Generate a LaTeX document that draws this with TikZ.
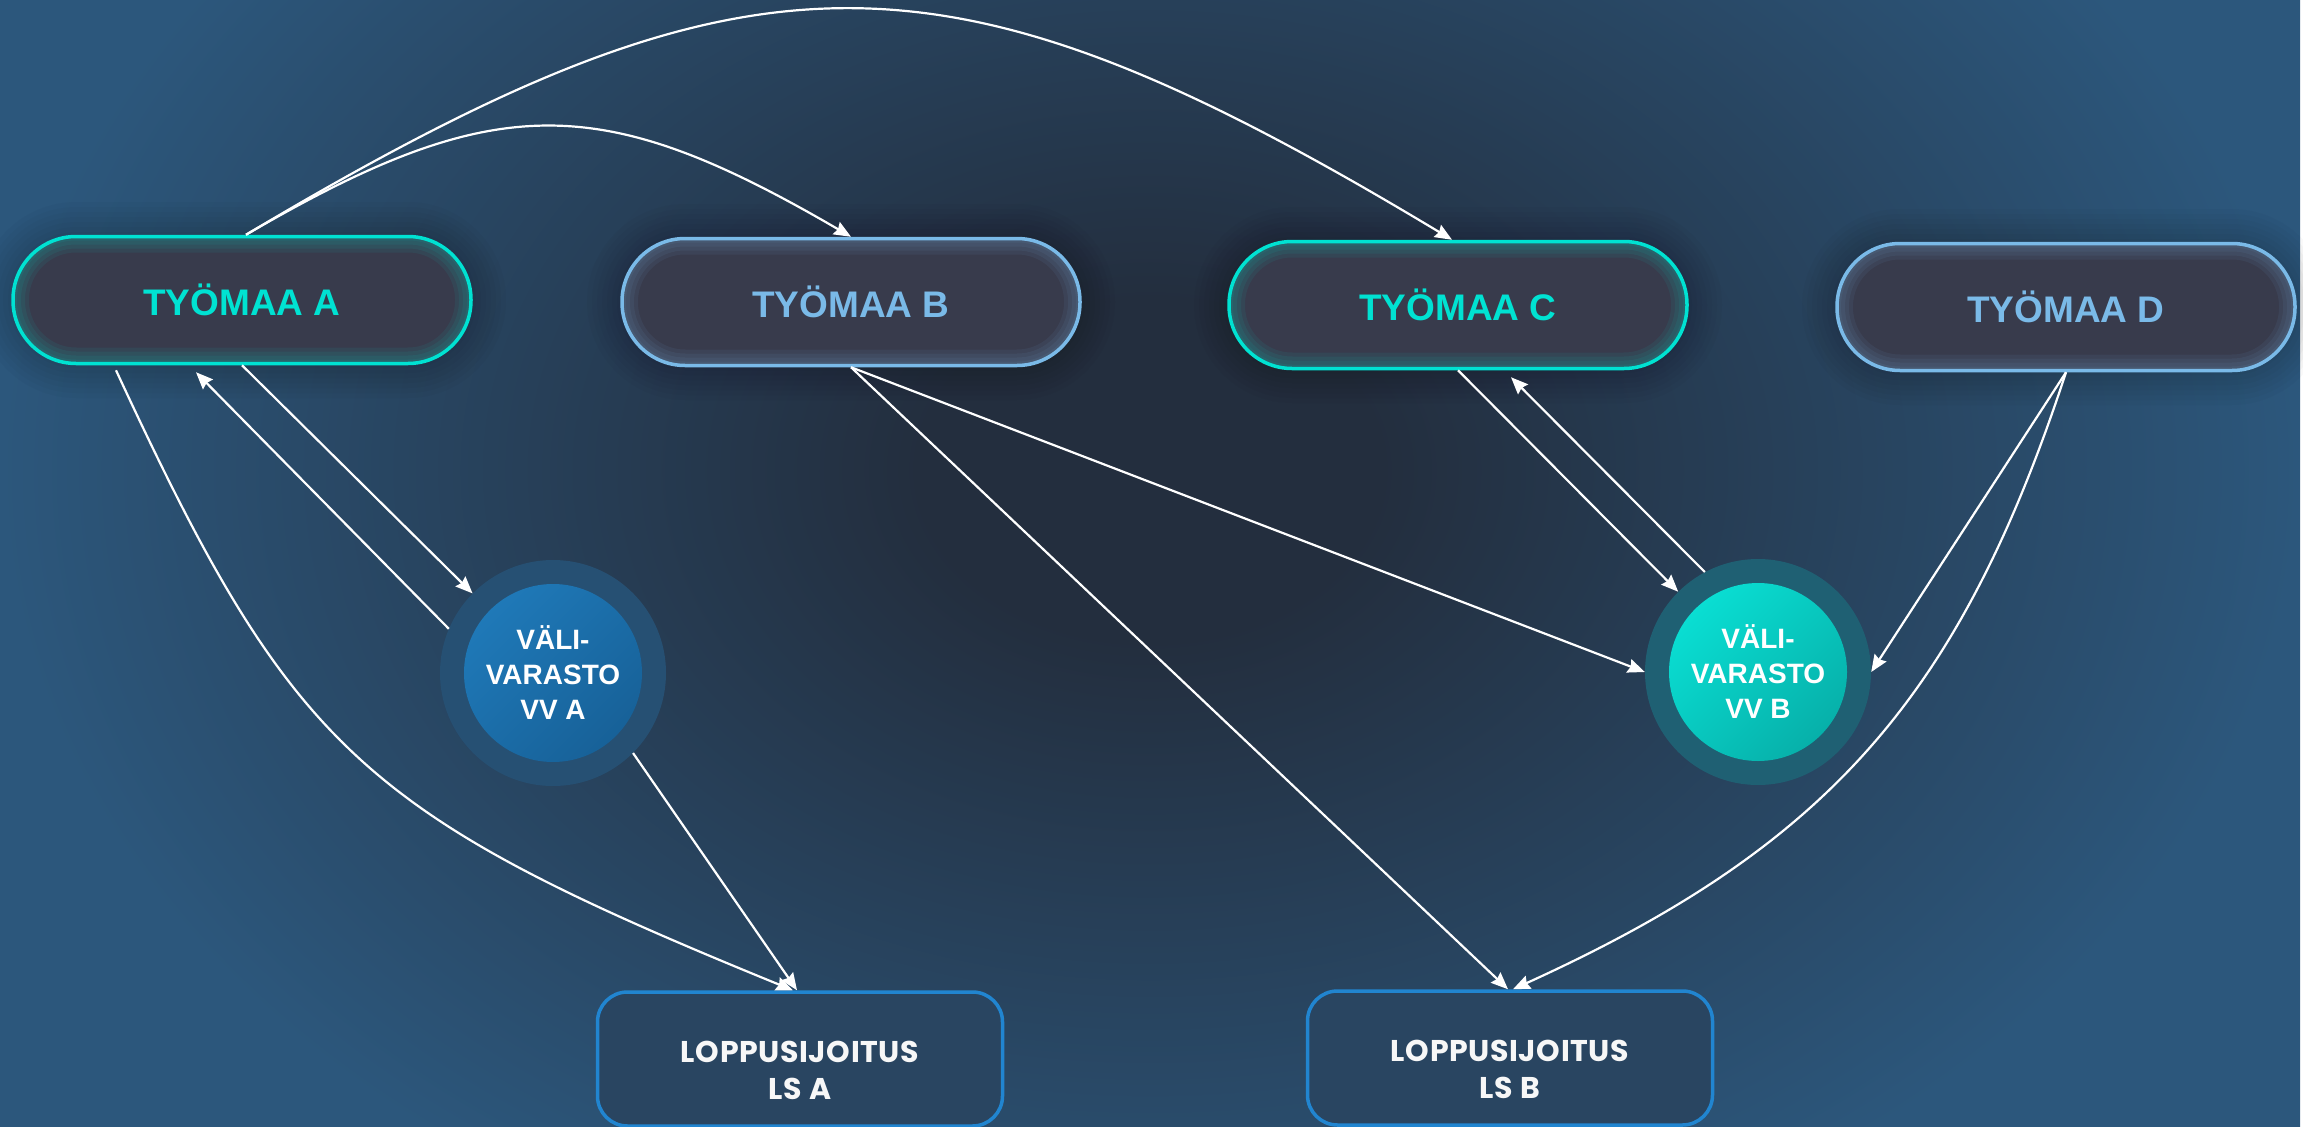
\documentclass[tikz,border=0pt]{standalone}
\usepackage{fontspec}
\setmainfont{Liberation Sans}
\newfontfamily\lsfont{Poppins}[LetterSpace=2]
\usetikzlibrary{arrows.meta}

\definecolor{bgin}{RGB}{35,46,62}
\definecolor{bgout}{RGB}{44,87,124}
\definecolor{siteteal}{RGB}{0,226,210}
\definecolor{siteblue}{RGB}{122,186,232}
\definecolor{sitefill}{RGB}{56,59,76}
\definecolor{lsblue}{RGB}{33,133,208}
\definecolor{lsfill}{RGB}{41,69,97}
\definecolor{ringa}{RGB}{38,80,115}
\definecolor{ringb}{RGB}{31,96,115}
\definecolor{vvatop}{RGB}{32,124,188}
\definecolor{vvabot}{RGB}{22,94,148}
\definecolor{vvbtop}{RGB}{10,228,216}
\definecolor{vvbbot}{RGB}{6,170,164}

\pgfdeclareradialshading{bgglow}{\pgfpoint{0bp}{0bp}}{color(0bp)=(bgin); color(5bp)=(bgin); color(25bp)=(bgout); color(50bp)=(bgout)}

\tikzset{
  site/.style={draw=#1, text=#1, line width=3.5pt, fill=sitefill,
    rounded corners=63pt, minimum width=458pt, minimum height=127pt, inner sep=0pt,
    font=\fontsize{37}{44}\selectfont\bfseries,
    path picture={
      \foreach \w in {8,16,24,32}
        \draw[#1, opacity=0.07, line width=\w pt, rounded corners=63pt]
          (path picture bounding box.south west) rectangle (path picture bounding box.north east);
    }},
  store/.style n args={3}{circle, fill=#1, minimum size=226pt, inner sep=0pt,
    text=white, align=center, font=\fontsize{28}{35}\selectfont\bfseries,
    path picture={
      \shade[top color=#2, bottom color=#3, shading angle=45]
        (path picture bounding box.center) circle (89pt);
    }},
  final/.style={draw=lsblue, line width=3.5pt, fill=lsfill, rounded corners=30pt,
    minimum width=405pt, minimum height=134pt, inner sep=0pt,
    text=white!94!gray, align=center,
    execute at begin node={\rule{0pt}{82pt}},
    font=\lsfont\bfseries\fontsize{30}{37}\selectfont},
  flow/.style={draw=white, line width=2.2pt, -{Stealth[length=17pt,width=14pt,inset=2pt]}}
}

\begin{document}
\begin{tikzpicture}[x=1pt,y=-1pt]
\useasboundingbox (0,0) rectangle (2303,1127);
\begin{scope}
  \clip (0,0) rectangle (2303,1127);
  \shade[shading=bgglow] (0,-380) rectangle (2300,1320);
  % soft shadows behind the worksites
  \foreach \x/\y in {242/300, 851/302, 1458/305, 2066/307}
    \foreach \w in {10,20,...,70}
      \draw[black, opacity=0.022, line width=\w pt, rounded corners=63pt]
        (\x-229,\y-63) rectangle (\x+229,\y+63);
\end{scope}

% worksites
\node[site=siteteal] (A) at (242,300) {TYÖMAA A};
\node[site=siteblue] (B) at (851,302) {TYÖMAA B};
\node[site=siteteal] (C) at (1458,305) {TYÖMAA C};
\node[site=siteblue] (D) at (2066,307) {TYÖMAA D};

% intermediate storages
\node[store={ringa}{vvatop}{vvabot}] (vva) at (553,673) {VÄLI-\\VARASTO\\VV A};
\node[store={ringb}{vvbtop}{vvbbot}] (vvb) at (1758,672) {VÄLI-\\VARASTO\\VV B};

% final disposal
\node[final] (lsa) at (800,1059) {LOPPUSIJOITUS\\LS A};
\node[final] (lsb) at (1510,1058) {LOPPUSIJOITUS\\LS B};

% flows
\draw[flow] ([xshift=4pt]A.north) .. controls (496,89) and (601,91) .. (B.north);
\draw[flow] ([xshift=4pt]A.north) .. controls (754,-68) and (944,-66) .. ([xshift=-6pt]C.north);
\draw[flow] (A.south) -- (vva);
\draw[flow] (vva.157) -- ([xshift=-46pt,yshift=-7pt]A.south);
\draw[flow] ([xshift=-126pt,yshift=-5pt]A.south) .. controls (293,752) and (361,814) .. ([xshift=-7pt]lsa.north);
\draw[flow] (vva.-45) -- ([xshift=-3pt]lsa.north);
\draw[flow] (B.south) -- ([xshift=-2pt]lsb.north);
\draw[flow] (B.south) -- (vvb.west);
\draw[flow] (C.south) -- (vvb);
\draw[flow] (vvb.118) -- ([xshift=53pt,yshift=-7pt]C.south);
\draw[flow] (D.south) -- (vvb.east);
\draw[flow] (D.south) .. controls (1959,699) and (1826,847) .. ([xshift=3pt]lsb.north);
\end{tikzpicture}
\end{document}
